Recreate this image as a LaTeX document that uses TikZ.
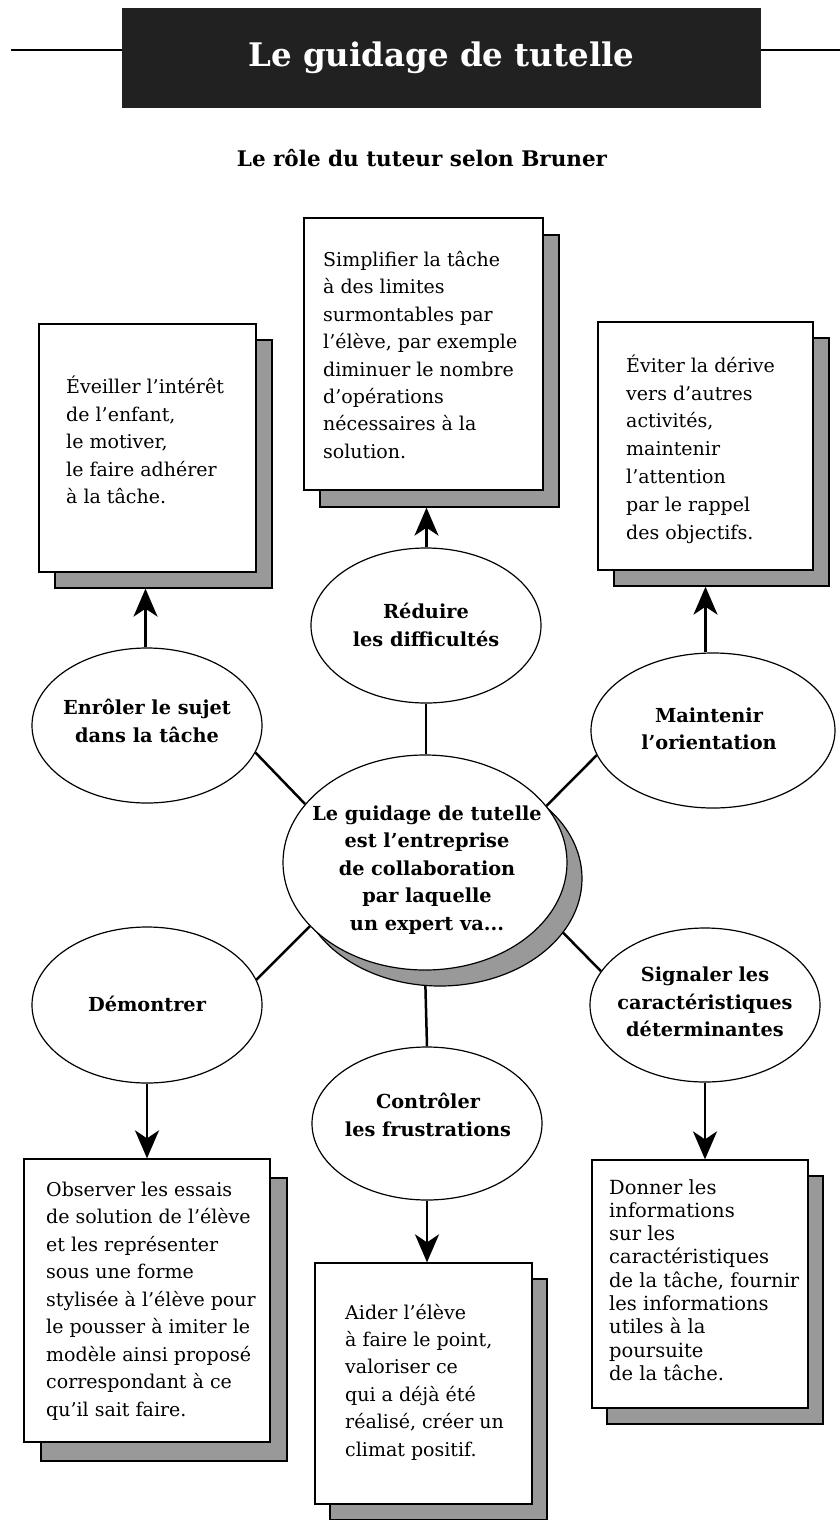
\documentclass[tikz,border=0pt]{standalone}
\usepackage{fontspec}
\setmainfont{DejaVu Serif}
\usetikzlibrary{shapes.geometric,arrows.meta,shadows,calc,backgrounds}
\definecolor{shadowgray}{gray}{0.6}
\definecolor{titlebg}{gray}{0.13}
\tikzset{
  txtbox/.style={draw, line width=1.3pt, fill=white, rectangle, inner sep=0pt},
  boxshadow/.style 2 args={drop shadow={shadow xshift=#1pt, shadow yshift=-#2pt, fill=shadowgray, draw=black, line width=1.3pt, opacity=1}},
  boxtext/.style={anchor=west, inner sep=0pt, align=left, font=\fontsize{19}{27.4}\selectfont},
  ell/.style={draw, line width=1.2pt, fill=white, ellipse, inner sep=0pt},
  elltext/.style={font=\bfseries\fontsize{19.3}{27.5}\selectfont, align=center, inner sep=0pt},
  link/.style={line width=2.5pt},
  arr/.style={line width=2.5pt, -{Stealth[length=28pt,width=24pt,inset=8pt]}},
}
\begin{document}
\begin{tikzpicture}[x=1pt,y=-1pt]
\useasboundingbox (0,0) rectangle (840,1520);
% title
\coordinate (tl) at (11,50);
\coordinate (tr) at (840,50);
\draw[line width=2pt] (tl) -- (tr);
\node[fill=titlebg, minimum width=639pt, minimum height=100pt, inner sep=0pt, text=white] (title) at (441.5,58)
  {\resizebox{386pt}{!}{\bfseries Le guidage de tutelle}};
\node[font=\bfseries\fontsize{21.5}{24}\selectfont, inner sep=0pt] (sub) at (422,158) {Le rôle du tuteur selon Bruner};

% boxes
\node[txtbox, boxshadow={16}{16}, minimum width=217pt, minimum height=248pt] (b1) at (147.5,448) {};
\node[txtbox, boxshadow={16}{17}, minimum width=239pt, minimum height=272pt] (b2) at (423.5,354) {};
\node[txtbox, boxshadow={16}{16}, minimum width=215pt, minimum height=248pt] (b3) at (705.5,446) {};
\node[txtbox, boxshadow={17}{19}, minimum width=246pt, minimum height=283pt] (b4) at (147,1300.5) {};
\node[txtbox, boxshadow={15}{16}, minimum width=217pt, minimum height=241pt] (b5) at (423.5,1383.5) {};
\node[txtbox, boxshadow={15}{16}, minimum width=216pt, minimum height=248pt] (b6) at (700,1284) {};

\node[boxtext] (t1) at (66,440)
  {Éveiller l'intérêt\\de l'enfant,\\le motiver,\\le faire adhérer\\à la tâche.};
\node[boxtext] (t2) at (323,355)
  {Simplifier la tâche\\à des limites\\surmontables par\\l'élève, par exemple\\diminuer le nombre\\d'opérations\\nécessaires à la\\solution.};
\node[boxtext, font=\fontsize{19}{27.8}\selectfont] (t3) at (626,449)
  {Éviter la dérive\\vers d'autres\\activités,\\maintenir\\l'attention\\par le rappel\\des objectifs.};
\node[boxtext, font=\fontsize{19}{27.5}\selectfont] (t4) at (46,1301)
  {Observer les essais\\de solution de l'élève\\et les représenter\\sous une forme\\stylisée à l'élève pour\\le pousser à imiter le\\modèle ainsi proposé\\correspondant à ce\\qu'il sait faire.};
\node[boxtext] (t5) at (345,1382)
  {Aider l'élève\\à faire le point,\\valoriser ce\\qui a déjà été\\réalisé, créer un\\climat positif.};
\node[boxtext, font=\fontsize{19.5}{23.3}\selectfont] (t6) at (609,1280)
  {Donner les\\informations\\sur les\\caractéristiques\\de la tâche, fournir\\les informations\\utiles à la\\poursuite\\de la tâche.};

% ellipses
\node[ell, minimum width=230pt, minimum height=155pt] (enrol) at (147,725.5) {};
\node[ell, minimum width=230pt, minimum height=155pt] (red) at (426,625.5) {};
\node[ell, minimum width=244pt, minimum height=155pt] (maint) at (713,730.5) {};
\node[ell, minimum width=230pt, minimum height=156pt] (dem) at (147,1005) {};
\node[ell, minimum width=230pt, minimum height=153pt] (ctrl) at (427,1123.5) {};
\node[ell, minimum width=230pt, minimum height=154pt] (sig) at (705,1005) {};
\node[ell, minimum width=284pt, minimum height=215pt,
  drop shadow={shadow xshift=15pt, shadow yshift=-16pt, fill=shadowgray, draw=black, line width=1.2pt, opacity=1}] (ctr) at (425,862.5) {};

% labels
\node[elltext] (tenrol) at (147,721) {Enrôler le sujet\\dans la tâche};
\node[elltext] (tred) at (426,625) {Réduire\\les difficultés};
\node[elltext] (tmaint) at (709,729) {Maintenir\\l'orientation};
\node[elltext] (tctr) at (427,870) {Le guidage de tutelle\\est l'entreprise\\de collaboration\\par laquelle\\un expert va...};
\node[elltext] (tdem) at (147,1004) {Démontrer};
\node[elltext] (tctrl) at (428,1115) {Contrôler\\les frustrations};
\node[elltext] (tsig) at (705,1002) {Signaler les\\caractéristiques\\déterminantes};

% connectors (behind)
\begin{scope}[on background layer]
\draw[link] (red.south) -- (red.south |- ctr.north);
\draw[link] (enrol.-14.3) -- (ctr.154);
\draw[link] (maint.192.9) -- (ctr.25);
\draw[link] (dem.13.3) -- (ctr.209.2);
\draw[link] (sig.162.6) -- (ctr.-24);
\draw[link] (ctr.south) -- (ctrl.north);
\end{scope}

% arrows
\coordinate (s1) at ($(b1.south)+(-2,16)$);
\coordinate (s2) at ($(b2.south)+(3,17)$);
\coordinate (s3) at ($(b3.south)+(0,16)$);
\draw[arr] (enrol.north -| s1) -- (s1);
\draw[arr] (red.north -| s2) -- (s2);
\draw[arr] (maint.north -| s3) -- (s3);
\draw[arr] (dem.south) -- (dem.south |- b4.north);
\draw[arr] (ctrl.south) -- (ctrl.south |- b5.north);
\draw[arr] (sig.south) -- (sig.south |- b6.north);
\end{tikzpicture}
\end{document}
